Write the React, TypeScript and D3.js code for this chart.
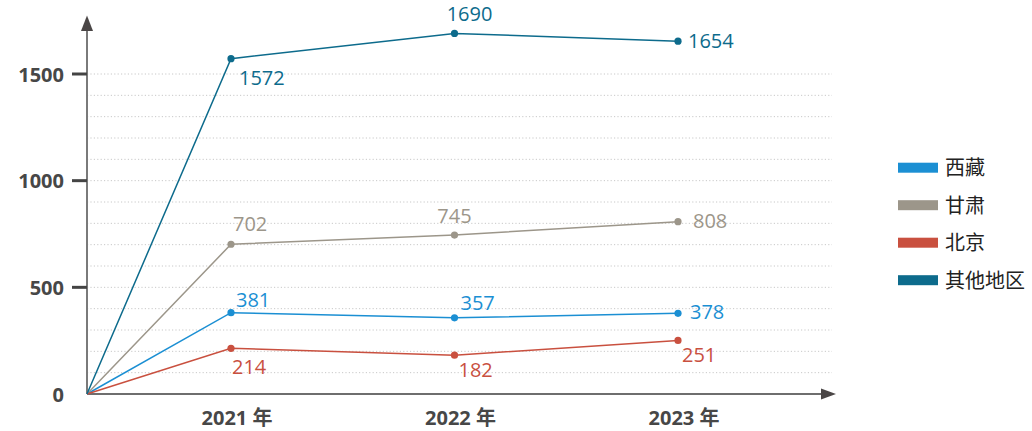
import { line } from "d3";
import * as d3 from "d3";

const years = ["2021", "2022", "2023"];
const regions = ["西藏", "甘肃", "北京", "其他地区"];
const colors = ["#1b8fd3", "#9c968a", "#c9503f", "#0d6b8c"];
const xizang = [381, 357, 378];
const gansu = [702, 745, 808];
const beijing = [214, 182, 251];
const others = [1572, 1690, 1654];
const yTicks = [0, 500, 1000, 1500];
const series = [xizang, gansu, beijing, others];

// where each value label sits relative to its point: [dx, dy, anchor]
const labelPos: [number, number, string][][] = [
  [[5, -6, "start"], [6, -8, "start"], [12, 6, "start"]],
  [[2, -13, "start"], [0, -12, "middle"], [15, 6, "start"]],
  [[1, 26, "start"], [4, 22, "start"], [4, 22, "start"]],
  [[8, 26, "start"], [15, -12, "middle"], [10, 7, "start"]],
];

const W = 1032;
const H = 431;
const x0 = 87;
const y0 = 394;
const font = "'Open Sans', 'Noto Sans CJK SC', sans-serif";

export default function App() {
  const y = d3.scaleLinear().domain([0, 1500]).range([y0, 74]);
  const x = d3.scalePoint<string>().domain(years).range([231, 678]);
  const grid = d3.range(100, 1501, 100);

  const path = line<[number, number]>()
    .x((d) => d[0])
    .y((d) => d[1]);

  return (
    <svg
      width={W}
      height={H}
      style={{ position: "absolute", left: 0, top: 0, background: "#fff" }}
      fontFamily={font}
    >
      {grid.map((g) => (
        <line
          key={g}
          x1={x0}
          x2={832}
          y1={y(g)}
          y2={y(g)}
          stroke="#c8c8c8"
          strokeWidth={1}
          strokeDasharray="1.2 2.2"
        />
      ))}

      {/* y axis */}
      <line x1={x0} x2={x0} y1={y0} y2={28} stroke="#7a7a7a" strokeWidth={2} />
      <path d={`M${x0 - 6},31 L${x0},15.5 L${x0 + 6},31 Z`} fill="#4a4646" />
      {yTicks.map((t) => (
        <g key={t}>
          {t > 0 && (
            <line x1={72} x2={x0} y1={y(t)} y2={y(t)} stroke="#444" strokeWidth={3} />
          )}
          <text
            x={64}
            y={y(t)}
            textAnchor="end"
            dominantBaseline="central"
            fontSize={20}
            fontWeight={700}
            fill="#474747"
          >
            {t}
          </text>
        </g>
      ))}

      {/* x axis */}
      <line x1={x0} x2={824} y1={y0} y2={y0} stroke="#6e6e6e" strokeWidth={2} />
      <path d={`M821,388.5 L836,394 L821,399.5 Z`} fill="#4a4646" />
      {years.map((yr) => (
        <text
          key={yr}
          x={(x(yr) ?? 0) + 6}
          y={425}
          textAnchor="middle"
          fontSize={20}
          fontWeight={700}
          fill="#474747"
        >
          {yr} 年
        </text>
      ))}

      {/* series */}
      {series.map((vals, i) => {
        const pts: [number, number][] = [[x0, y(0)]].concat(
          vals.map((v, j) => [x(years[j]) ?? 0, y(v)] as [number, number])
        ) as [number, number][];
        return (
          <g key={regions[i]}>
            <path d={path(pts) ?? ""} fill="none" stroke={colors[i]} strokeWidth={1.5} />
            {vals.map((v, j) => {
              const cx = x(years[j]) ?? 0;
              const cy = y(v);
              const [dx, dy, anchor] = labelPos[i][j];
              return (
                <g key={j}>
                  <circle cx={cx} cy={cy} r={3.6} fill={colors[i]} />
                  <text
                    x={cx + dx}
                    y={cy + dy}
                    textAnchor={anchor}
                    fontSize={20}
                    fill={colors[i]}
                  >
                    {v}
                  </text>
                </g>
              );
            })}
          </g>
        );
      })}

      {/* legend */}
      {regions.map((r, i) => (
        <g key={r} transform={`translate(898, ${167.7 + i * 37.5})`}>
          <rect x={0} y={-5} width={40} height={10} fill={colors[i]} />
          <text
            x={47}
            y={0}
            dominantBaseline="central"
            fontSize={20}
            fill="#222"
          >
            {r}
          </text>
        </g>
      ))}
    </svg>
  );
}
